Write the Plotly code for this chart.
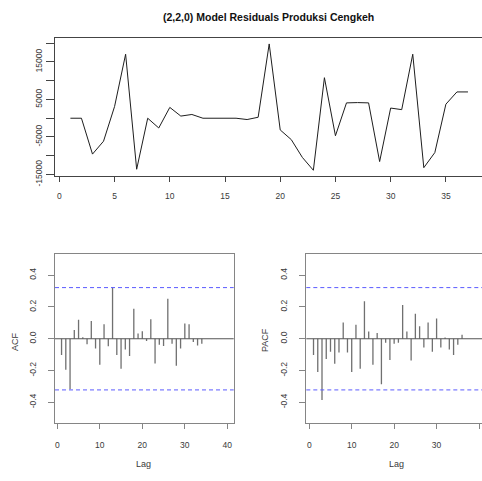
import plotly.graph_objects as go

# ---------------- data ----------------
time_idx = list(range(1, 38))
residuals = [0, 0, -9560, -6130, 3140, 17060, -13600, 0, -2600, 2890,
             570, 1000, 0, 0, 0, 0, -350, 260, 19800, -3120,
             -5700, -10430, -13870, 10800, -4670, 4090, 4170, 4090, -11550, 2710,
             2290, 17060, -13180, -9150, 3740, 7010, 7010]

acf_lags = list(range(1, 35))
acf_vals = [-0.103, -0.195, -0.318, 0.055, 0.119, 0.010, -0.035, 0.111, -0.062, -0.164,
            0.092, -0.047, 0.322, -0.103, -0.189, -0.068, -0.109, 0.189, 0.033, 0.047,
            -0.014, 0.123, -0.156, -0.037, -0.045, 0.252, -0.031, -0.170, -0.062, 0.096,
            0.092, -0.021, -0.043, -0.031]

pacf_lags = list(range(1, 37))
pacf_vals = [-0.103, -0.209, -0.386, -0.127, -0.082, -0.158, -0.086, 0.103, -0.086, -0.209,
             0.088, -0.189, 0.236, 0.045, -0.164, 0.037, -0.287, -0.025, -0.133, -0.031,
             -0.025, 0.213, 0.045, -0.137, 0.158, 0.078, -0.055, 0.103, -0.082, 0.127,
             -0.055, 0.008, -0.068, -0.103, -0.037, 0.025]

conf_limit = 0.322

top_ytick_vals = [-15000, -10000, -5000, 0, 5000, 10000, 15000, 20000]
top_ytick_text = ["-15000", "", "-5000", "", "5000", "", "15000", ""]
top_xtick_vals = [0, 5, 10, 15, 20, 25, 30, 35]
cf_xtick_vals = [0, 10, 20, 30, 40]
cf_ytick_vals = [-0.4, -0.2, 0.0, 0.2, 0.4]
cf_ytick_text = ["-0.4", "-0.2", "0.0", "0.2", "0.4"]

title_text = "(2,2,0) Model Residuals Produksi Cengkeh"

# ---------------- figure ----------------
W, H = 482, 481
FONT = "Liberation Sans, Arial, sans-serif"
TXT = "#3a3a3a"


def stems(lags, vals):
    xs, ys = [], []
    for l, v in zip(lags, vals):
        xs += [l, l, None]
        ys += [0, v, None]
    return xs, ys


fig = go.Figure()

fig.add_trace(go.Scatter(x=time_idx, y=residuals, mode="lines",
                         line=dict(color="#1e1e1e", width=1),
                         xaxis="x", yaxis="y", showlegend=False))

ax, ay = stems(acf_lags, acf_vals)
fig.add_trace(go.Scatter(x=ax, y=ay, mode="lines",
                         line=dict(color="#707070", width=1.3),
                         xaxis="x2", yaxis="y2", showlegend=False))

px_, py_ = stems(pacf_lags, pacf_vals)
fig.add_trace(go.Scatter(x=px_, y=py_, mode="lines",
                         line=dict(color="#707070", width=1.3),
                         xaxis="x3", yaxis="y3", showlegend=False))

# zero and confidence lines
for xa, ya in (("x2", "y2"), ("x3", "y3")):
    fig.add_shape(type="line", xref=f"{xa} domain", yref=ya, x0=0, x1=1, y0=0, y1=0,
                  line=dict(color="#555555", width=1), layer="above")
    for s in (1, -1):
        fig.add_shape(type="line", xref=f"{xa} domain", yref=ya, x0=0, x1=1,
                      y0=s * conf_limit, y1=s * conf_limit,
                      line=dict(color="#5b5bff", width=1, dash="4px,3px"), layer="above")


def fx(p):
    return p / W


def fy(p):
    return 1 - p / H


tickfont = dict(family=FONT, size=8.5, color=TXT)

base = dict(showgrid=False, zeroline=False, ticks="outside",
            showline=True, linewidth=1, tickfont=tickfont)

fig.update_layout(
    width=W, height=H,
    margin=dict(l=0, r=0, t=0, b=0),
    paper_bgcolor="white", plot_bgcolor="white",
    font=dict(family=FONT, color=TXT),
    xaxis=dict(domain=[fx(54.5), 1], range=[-0.44, 38.27],
               tickvals=top_xtick_vals, mirror=True, linecolor="#444444",
               tickcolor="#444444", anchor="y", ticklen=5, ticklabelstandoff=7, **base),
    yaxis=dict(domain=[fy(180), fy(39.3)], range=[-15365, 21275],
               tickvals=top_ytick_vals, ticktext=top_ytick_text, tickangle=-90,
               linecolor="#444444", tickcolor="#444444", anchor="x",
               ticklen=8, **base),
    xaxis2=dict(domain=[fx(55), fx(233.7)], range=[-0.54, 41.5],
                tickvals=cf_xtick_vals, mirror=True, linecolor="#858585",
                tickcolor="#858585", anchor="y2", ticklen=5, ticklabelstandoff=9, **base),
    yaxis2=dict(domain=[fy(432.7), fy(259.7)], range=[-0.529, 0.535],
                tickvals=cf_ytick_vals, ticktext=cf_ytick_text, tickangle=-90,
                mirror=True, linecolor="#858585", tickcolor="#858585",
                anchor="x2", ticklen=6, ticklabelstandoff=9, **base),
    xaxis3=dict(domain=[fx(306.3), 1], range=[-0.7, 40.7],
                tickvals=cf_xtick_vals, mirror=True, linecolor="#858585",
                tickcolor="#858585", anchor="y3", ticklen=5, ticklabelstandoff=9, **base),
    yaxis3=dict(domain=[fy(432.7), fy(259.7)], range=[-0.529, 0.535],
                tickvals=cf_ytick_vals, ticktext=cf_ytick_text, tickangle=-90,
                linecolor="#858585", tickcolor="#858585",
                anchor="x3", ticklen=6, ticklabelstandoff=9, **base),
)

ann_font = dict(family=FONT, size=9, color=TXT)
ann = dict(xref="paper", yref="paper", showarrow=False, xanchor="center", yanchor="middle")
fig.add_annotation(x=fx(268), y=fy(17), text="<b>" + title_text + "</b>",
                   font=dict(family=FONT, size=10.5, color="#111111"), **ann)
fig.add_annotation(x=fx(15), y=fy(350), text="ACF", textangle=-90, font=ann_font, **ann)
fig.add_annotation(x=fx(265), y=fy(348), text="PACF", textangle=-90, font=ann_font, **ann)
fig.add_annotation(x=fx(143), y=fy(475), text="Lag", font=ann_font, **ann)
fig.add_annotation(x=fx(396), y=fy(475), text="Lag", font=ann_font, **ann)

fig.write_html("out.html", config={"displayModeBar": False},
               post_script="document.body.style.margin='0px';document.body.style.overflow='hidden';")
